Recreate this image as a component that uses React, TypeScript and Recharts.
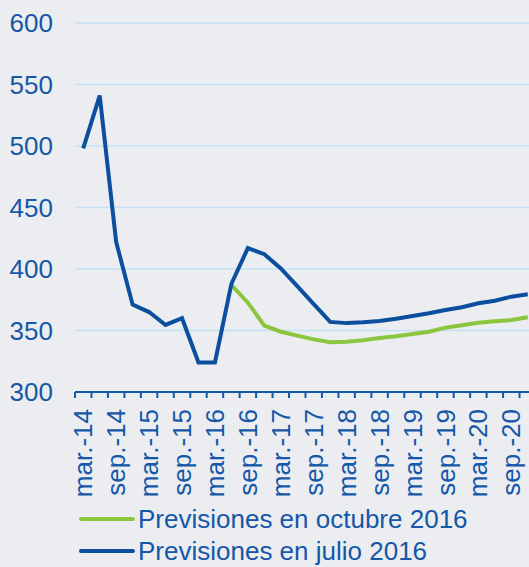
import React from 'react';
import { LineChart, Line, XAxis, YAxis, CartesianGrid, Legend } from 'recharts';

// quarterly periods, mar.-14 .. dic.-20
const periods = [
    'mar.-14', 'jun.-14', 'sep.-14', 'dic.-14',
    'mar.-15', 'jun.-15', 'sep.-15', 'dic.-15',
    'mar.-16', 'jun.-16', 'sep.-16', 'dic.-16',
    'mar.-17', 'jun.-17', 'sep.-17', 'dic.-17',
    'mar.-18', 'jun.-18', 'sep.-18', 'dic.-18',
    'mar.-19', 'jun.-19', 'sep.-19', 'dic.-19',
    'mar.-20', 'jun.-20', 'sep.-20', 'dic.-20',
];

const julio2016 = [
    498, 541, 422, 371, 365, 354.5, 360, 324, 324, 388, 417, 412, 400.5, 386,
    371.5, 357, 356, 356.7, 357.7, 359.6, 361.8, 364, 366.7, 368.9, 372.1, 374.2, 377.5, 379.4,
];

const octubre2016 = [
    null, null, null, null, null, null, null, null, null,
    387, 372.6, 354, 349, 345.8, 342.8, 340.4, 340.9, 342, 343.9, 345.3, 347.2,
    349, 352.3, 354.2, 356.3, 357.5, 358.5, 360.7,
];

const yTicks = [300, 350, 400, 450, 500, 550, 600];

const data = periods.map((period, i) => ({
    period,
    octubre: octubre2016[i],
    julio: julio2016[i],
}));

const BLUE = '#0b4f9e';
const GREEN = '#8cc63f';
const TEXT = '#1557a8';
const FONT = '"Liberation Sans", Arial, sans-serif';

const CHART_W = 540;
const Y_AXIS_W = 75;
const RIGHT = 4;
const BAND = (CHART_W - Y_AXIS_W - RIGHT) / periods.length;

// label on every other quarter, small tick mark on every category boundary
function PeriodTick({ x, y, index, payload }: any) {
    const last = index === periods.length - 1;
    return (
        <g>
            <line x1={x - BAND / 2} y1={y} x2={x - BAND / 2} y2={y + 6} stroke={TEXT} strokeWidth={2} />
            {last && <line x1={x + BAND / 2} y1={y} x2={x + BAND / 2} y2={y + 6} stroke={TEXT} strokeWidth={2} />}
            {index % 2 === 0 && (
                <text
                    transform={`translate(${x},${y + 17}) rotate(-90)`}
                    textAnchor="end"
                    dy="0.35em"
                    fontSize={26}
                    fontFamily={FONT}
                    fill={TEXT}
                >
                    {payload.value}
                </text>
            )}
        </g>
    );
}

function LegendBox() {
    const items = [
        { label: 'Previsiones en octubre 2016', color: GREEN },
        { label: 'Previsiones en julio 2016', color: BLUE },
    ];
    return (
        <div style={{ paddingLeft: 79 }}>
            {items.map((it) => (
                <div key={it.label} style={{ display: 'flex', alignItems: 'center', height: 32 }}>
                    <svg width={56} height={6}>
                        <line x1={2} y1={3} x2={54} y2={3} stroke={it.color} strokeWidth={4} strokeLinecap="round" />
                    </svg>
                    <span style={{ marginLeft: 3, fontSize: 26, fontFamily: FONT, color: TEXT, whiteSpace: 'nowrap' }}>
                        {it.label}
                    </span>
                </div>
            ))}
        </div>
    );
}

export default function App() {
    return (
        <div style={{ position: 'absolute', left: 0, top: 0, width: 529, height: 567, overflow: 'hidden', background: '#ecedf0' }}>
            <LineChart width={CHART_W} height={567} data={data} margin={{ top: 23, right: RIGHT, left: 0, bottom: 0 }}>
                <CartesianGrid horizontal vertical={false} stroke="#c3e2f4" strokeWidth={1.5} />
                <XAxis
                    dataKey="period"
                    interval={0}
                    height={111}
                    padding={{ left: BAND / 2, right: BAND / 2 }}
                    axisLine={{ stroke: TEXT, strokeWidth: 2 }}
                    tickLine={false}
                    tickSize={0}
                    tickMargin={0}
                    tick={<PeriodTick />}
                />
                <YAxis
                    domain={[300, 600]}
                    ticks={yTicks}
                    width={Y_AXIS_W}
                    axisLine={false}
                    tickLine={false}
                    tickSize={0}
                    tickMargin={22}
                    tick={{ fontSize: 26, fontFamily: FONT, fill: TEXT }}
                />
                <Legend verticalAlign="bottom" align="left" layout="horizontal" content={<LegendBox />} />
                <Line dataKey="octubre" name="Previsiones en octubre 2016" stroke={GREEN} strokeWidth={4} dot={false} isAnimationActive={false} />
                <Line dataKey="julio" name="Previsiones en julio 2016" stroke={BLUE} strokeWidth={4} dot={false} isAnimationActive={false} />
            </LineChart>
        </div>
    );
}
